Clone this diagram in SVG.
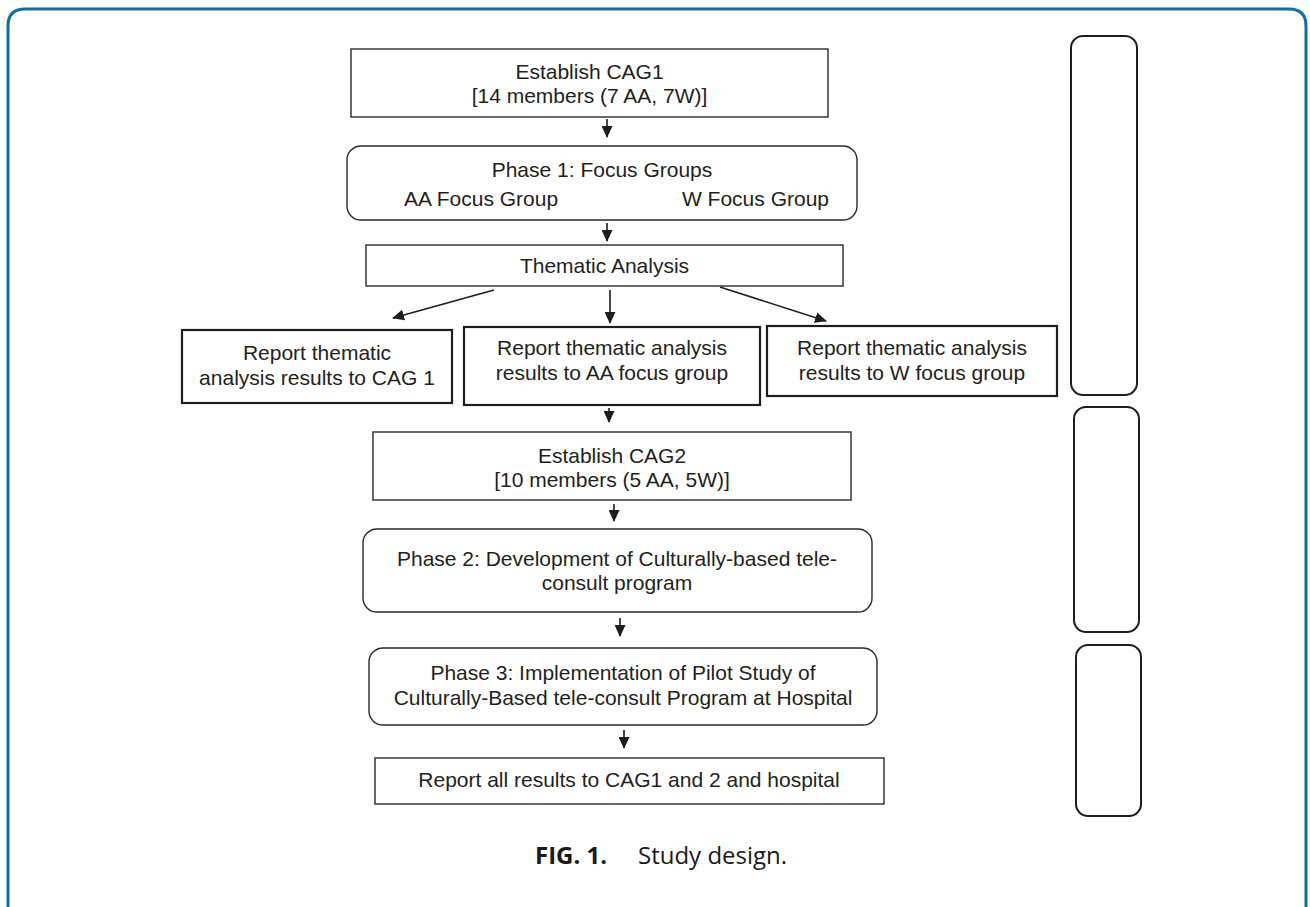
<svg xmlns="http://www.w3.org/2000/svg" width="1310" height="907" viewBox="0 0 1310 907">
<style>
  .box{fill:#fff;stroke:#2a2a2a;stroke-width:1.4}
  .boxb{fill:#fff;stroke:#1e1e1e;stroke-width:2.2}
  .side{fill:#fff;stroke:#1e1e1e;stroke-width:2}
  .t{font-family:"Liberation Sans",Arial,sans-serif;font-size:21px;fill:#231f20;text-anchor:middle}
  .conn line{stroke:#1e1e1e;stroke-width:1.6;marker-end:url(#ah)}
  .cap{font-family:"Open Sans","Liberation Sans",sans-serif;font-size:24px;fill:#1a1a1a}
</style>
<defs>
  <marker id="ah" markerUnits="userSpaceOnUse" markerWidth="12" markerHeight="11" refX="11" refY="5.5" orient="auto">
    <path d="M0,0 L12,5.5 L0,11 z" fill="#1e1e1e"/>
  </marker>
</defs>
<rect width="1310" height="907" fill="#fff"/>
<path d="M8,915 L8,26 Q8,9 25,9 L1289,9 Q1306,9 1306,26 L1306,915" fill="none" stroke="#0b6fa6" stroke-width="3"/>

<g id="cag1">
  <rect class="box" x="351" y="49" width="477" height="68"/>
  <text class="t" x="589.5" y="79">Establish CAG1</text>
  <text class="t" x="589.5" y="103">[14 members (7 AA, 7W)]</text>
</g>
<g id="phase1">
  <rect class="box" x="347" y="146" width="510" height="74" rx="14"/>
  <text class="t" x="602" y="177">Phase 1: Focus Groups</text>
  <text class="t" x="404" y="206" style="text-anchor:start">AA Focus Group</text>
  <text class="t" x="829" y="206" style="text-anchor:end">W Focus Group</text>
</g>
<g id="thematic">
  <rect class="box" x="366" y="245" width="477" height="41"/>
  <text class="t" x="604.5" y="273">Thematic Analysis</text>
</g>
<g id="report-cag1">
  <rect class="boxb" x="182" y="330" width="270" height="73"/>
  <text class="t" x="317" y="360">Report thematic</text>
  <text class="t" x="317" y="385">analysis results to CAG 1</text>
</g>
<g id="report-aa">
  <rect class="boxb" x="464" y="327" width="296" height="78"/>
  <text class="t" x="612" y="355">Report thematic analysis</text>
  <text class="t" x="612" y="380">results to AA focus group</text>
</g>
<g id="report-w">
  <rect class="boxb" x="767" y="326" width="290" height="70"/>
  <text class="t" x="912" y="355">Report thematic analysis</text>
  <text class="t" x="912" y="380">results to W focus group</text>
</g>
<g id="cag2">
  <rect class="box" x="373" y="432" width="478" height="68"/>
  <text class="t" x="612" y="463">Establish CAG2</text>
  <text class="t" x="612" y="487">[10 members (5 AA, 5W)]</text>
</g>
<g id="phase2">
  <rect class="box" x="363" y="529" width="509" height="83" rx="14"/>
  <text class="t" x="617" y="566">Phase 2: Development of Culturally-based tele-</text>
  <text class="t" x="617" y="590">consult program</text>
</g>
<g id="phase3">
  <rect class="box" x="369" y="648" width="508" height="77" rx="14"/>
  <text class="t" x="623" y="680">Phase 3: Implementation of Pilot Study of</text>
  <text class="t" x="623" y="705">Culturally-Based tele-consult Program at Hospital</text>
</g>
<g id="report-all">
  <rect class="box" x="375" y="758" width="509" height="46"/>
  <text class="t" x="629" y="787">Report all results to CAG1 and 2 and hospital</text>
</g>

<g id="side1"><rect class="side" x="1071" y="36" width="66" height="359" rx="12"/></g>
<g id="side2"><rect class="side" x="1074" y="407" width="65" height="225" rx="12"/></g>
<g id="side3"><rect class="side" x="1076" y="645" width="65" height="171" rx="12"/></g>

<g id="connectors" class="conn">
  <line x1="607" y1="119" x2="607" y2="137"/>
  <line x1="607" y1="223" x2="607" y2="241"/>
  <line x1="610" y1="290" x2="610" y2="323"/>
  <line x1="494" y1="290" x2="393" y2="318"/>
  <line x1="720" y1="287" x2="826" y2="321"/>
  <line x1="609" y1="408" x2="609" y2="422"/>
  <line x1="614" y1="504" x2="614" y2="521"/>
  <line x1="620" y1="618" x2="620" y2="636"/>
  <line x1="624" y1="730" x2="624" y2="748"/>
</g>

<g id="caption">
  <text class="cap" x="535" y="864" font-weight="bold">FIG. 1.</text>
  <text class="cap" x="638" y="864">Study design.</text>
</g>
</svg>
